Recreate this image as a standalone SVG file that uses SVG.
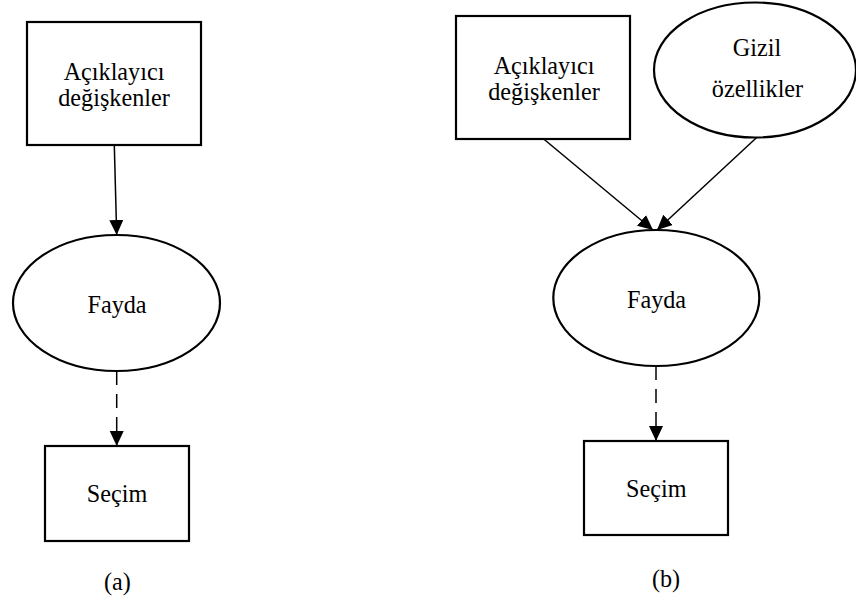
<svg xmlns="http://www.w3.org/2000/svg" width="856" height="603" viewBox="0 0 856 603">
  <defs>
    <style>
      .box { fill: #fff; stroke: #000; stroke-width: 2.2; }
      .oval { fill: #fff; stroke: #000; stroke-width: 2.2; }
      .lbl { font-family: "Liberation Serif", "Times New Roman", serif; font-size: 24.2px; fill: #000; text-anchor: middle; }
      .edge { fill: none; stroke: #000; stroke-width: 1.5; }
      .dash { stroke-dasharray: 14 9; }
    </style>
    <marker id="arrow" markerUnits="userSpaceOnUse" markerWidth="16" markerHeight="16" refX="15" refY="7" orient="auto">
      <path d="M0,0 L15,7 L0,14 Z" fill="#000"/>
    </marker>
  </defs>

  <rect width="856" height="603" fill="#fff"/>

  <!-- panel (a) -->
  <g id="a-explanatory">
    <rect class="box" x="27" y="22" width="174" height="123"/>
    <text class="lbl" x="114" y="80">Açıklayıcı</text>
    <text class="lbl" x="114" y="106">değişkenler</text>
  </g>
  <g id="a-utility">
    <ellipse class="oval" cx="116.5" cy="303" rx="103.5" ry="68"/>
    <text class="lbl" x="117" y="313">Fayda</text>
  </g>
  <g id="a-choice">
    <rect class="box" x="45" y="446" width="144" height="95"/>
    <text class="lbl" x="117" y="502">Seçim</text>
  </g>
  <text id="a-caption" class="lbl" x="117.5" y="590">(a)</text>

  <!-- panel (b) -->
  <g id="b-explanatory">
    <rect class="box" x="456" y="16" width="174" height="123"/>
    <text class="lbl" x="544" y="74">Açıklayıcı</text>
    <text class="lbl" x="544" y="100">değişkenler</text>
  </g>
  <g id="b-latent">
    <ellipse class="oval" cx="755" cy="70" rx="101" ry="67.5"/>
    <text class="lbl" x="757" y="56">Gizil</text>
    <text class="lbl" x="757.5" y="97">özellikler</text>
  </g>
  <g id="b-utility">
    <ellipse class="oval" cx="656.3" cy="298" rx="103" ry="68"/>
    <text class="lbl" x="656.5" y="308">Fayda</text>
  </g>
  <g id="b-choice">
    <rect class="box" x="584" y="441" width="144" height="94"/>
    <text class="lbl" x="656.3" y="497">Seçim</text>
  </g>
  <text id="b-caption" class="lbl" x="666" y="587">(b)</text>

  <!-- connectors -->
  <g id="connectors">
    <line class="edge" x1="114.3" y1="145" x2="116.7" y2="235" marker-end="url(#arrow)"/>
    <line class="edge dash" x1="116.7" y1="371" x2="116.7" y2="446" marker-end="url(#arrow)"/>
    <line class="edge" x1="544.3" y1="139.5" x2="653" y2="230" marker-end="url(#arrow)"/>
    <line class="edge" x1="756.7" y1="137.5" x2="657" y2="230" marker-end="url(#arrow)"/>
    <line class="edge dash" x1="656" y1="366" x2="656" y2="441" marker-end="url(#arrow)"/>
  </g>
</svg>
